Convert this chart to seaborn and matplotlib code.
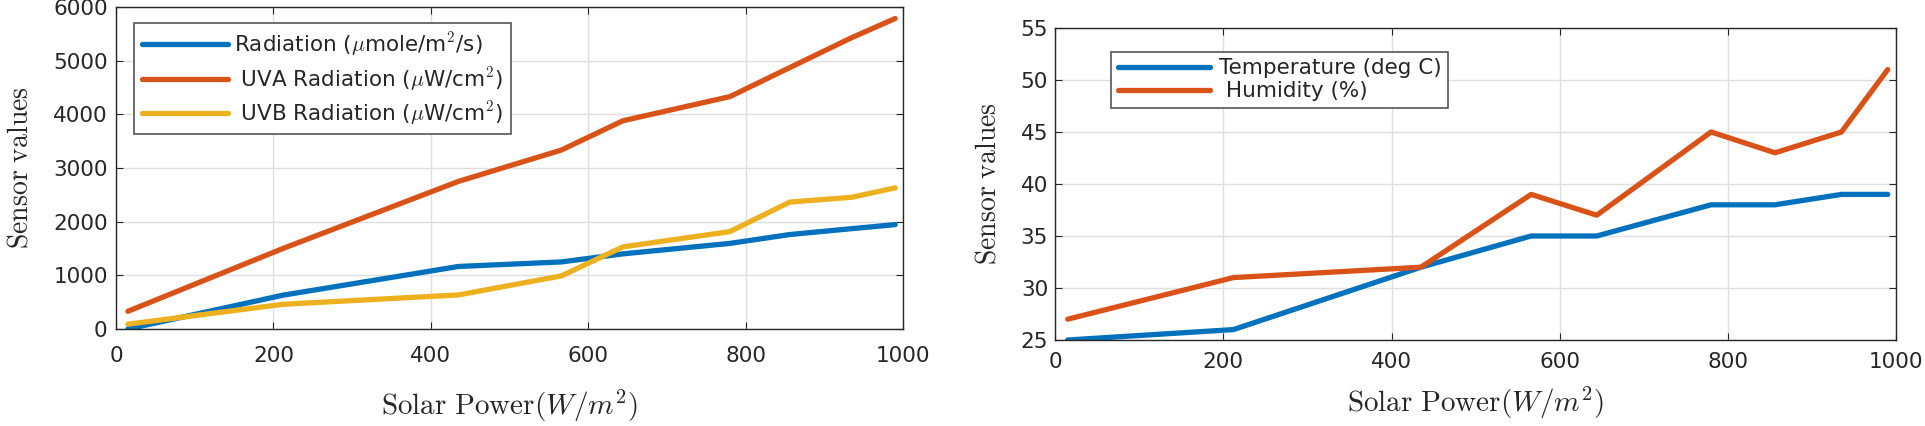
import pandas as pd
import seaborn as sns
import matplotlib.pyplot as plt

# solar power readings (W/m^2), same for both panels
solar_power = [15, 212, 435, 566, 644, 780, 856, 935, 990]

radiation = [0, 630, 1165, 1250, 1400, 1595, 1760, 1870, 1945]
uva = [330, 1500, 2750, 3335, 3880, 4330, 4870, 5430, 5785]
uvb = [90, 460, 635, 990, 1530, 1815, 2365, 2455, 2630]

temperature = [25, 26, 32, 35, 35, 38, 38, 39, 39]
humidity = [27, 31, 32, 39, 37, 45, 43, 45, 51]

blue = '#0072BD'
orange = '#D95319'
yellow = '#EDB120'

sns.set_style('ticks')
plt.rcParams['font.family'] = ['DejaVu Sans']
plt.rcParams['mathtext.fontset'] = 'cm'
plt.rcParams['xtick.direction'] = 'in'
plt.rcParams['ytick.direction'] = 'in'
plt.rcParams['xtick.top'] = True
plt.rcParams['ytick.right'] = True
plt.rcParams['xtick.major.size'] = 5
plt.rcParams['ytick.major.size'] = 5
plt.rcParams['xtick.color'] = '#262626'
plt.rcParams['ytick.color'] = '#262626'
plt.rcParams['axes.edgecolor'] = '#262626'
plt.rcParams['axes.linewidth'] = 1.0

left_df = pd.DataFrame({'power': solar_power, 'rad': radiation, 'uva': uva, 'uvb': uvb})
right_df = pd.DataFrame({'power': solar_power, 'temp': temperature, 'hum': humidity})

fig = plt.figure(figsize=(19.25, 4.26), dpi=100)
ax1 = fig.add_axes([0.0603, 0.2277, 0.4088, 0.7559])
ax2 = fig.add_axes([0.5481, 0.2019, 0.4369, 0.7324])

lw = 3.8
sns.lineplot(left_df, x='power', y='rad', ax=ax1, color=blue, lw=lw, estimator=None,
             label=r'Radiation ($\mu$mole/m$^2$/s)')
sns.lineplot(left_df, x='power', y='uva', ax=ax1, color=orange, lw=lw, estimator=None,
             label=r' UVA Radiation ($\mu$W/cm$^2$)')
sns.lineplot(left_df, x='power', y='uvb', ax=ax1, color=yellow, lw=lw, estimator=None,
             label=r' UVB Radiation ($\mu$W/cm$^2$)')
ax1.set_xlim(0, 1000)
ax1.set_ylim(0, 6000)
ax1.set_yticks(range(0, 6001, 1000))

sns.lineplot(right_df, x='power', y='temp', ax=ax2, color=blue, lw=lw, estimator=None,
             label='Temperature (deg C)')
sns.lineplot(right_df, x='power', y='hum', ax=ax2, color=orange, lw=lw, estimator=None,
             label=' Humidity (%)')
ax2.set_xlim(0, 1000)
ax2.set_ylim(25, 55)
ax2.set_yticks(range(25, 56, 5))

for ax in (ax1, ax2):
    ax.grid(True, color='#dedede', lw=1)
    ax.set_axisbelow(True)
    for s in ax.spines.values():
        s.set_visible(True)
    ax.tick_params(labelsize=15.5)
    ax.set_ylabel(r'$\mathrm{Sensor\ values}$', fontsize=20, labelpad=14)

ax1.set_xlabel(r'$\mathrm{Solar\ Power}(W/m^2)$', fontsize=21, labelpad=16)
ax2.set_xlabel(r'$\mathrm{Solar\ Power}(W/m^2)$', fontsize=21, labelpad=9)

ax1.tick_params(axis='x', pad=12)
ax1.tick_params(axis='y', pad=6)
ax2.tick_params(axis='x', pad=9)
ax2.tick_params(axis='y', pad=5)

leg1 = ax1.legend(loc='upper left', bbox_to_anchor=(0.0229, 0.950), borderaxespad=0,
                  fontsize=15.5, handlelength=4.0, handletextpad=0.3, labelspacing=0.3,
                  borderpad=0.35, fancybox=False, framealpha=1, edgecolor='#555555')
leg2 = ax2.legend(loc='upper left', bbox_to_anchor=(0.0666, 0.923), borderaxespad=0,
                  fontsize=15.5, handlelength=4.3, handletextpad=0.4, labelspacing=0.12,
                  borderpad=0.3, fancybox=False, framealpha=1, edgecolor='#555555')
for leg in (leg1, leg2):
    leg.get_frame().set_linewidth(1.2)

fig.savefig('out.png', dpi=100)
